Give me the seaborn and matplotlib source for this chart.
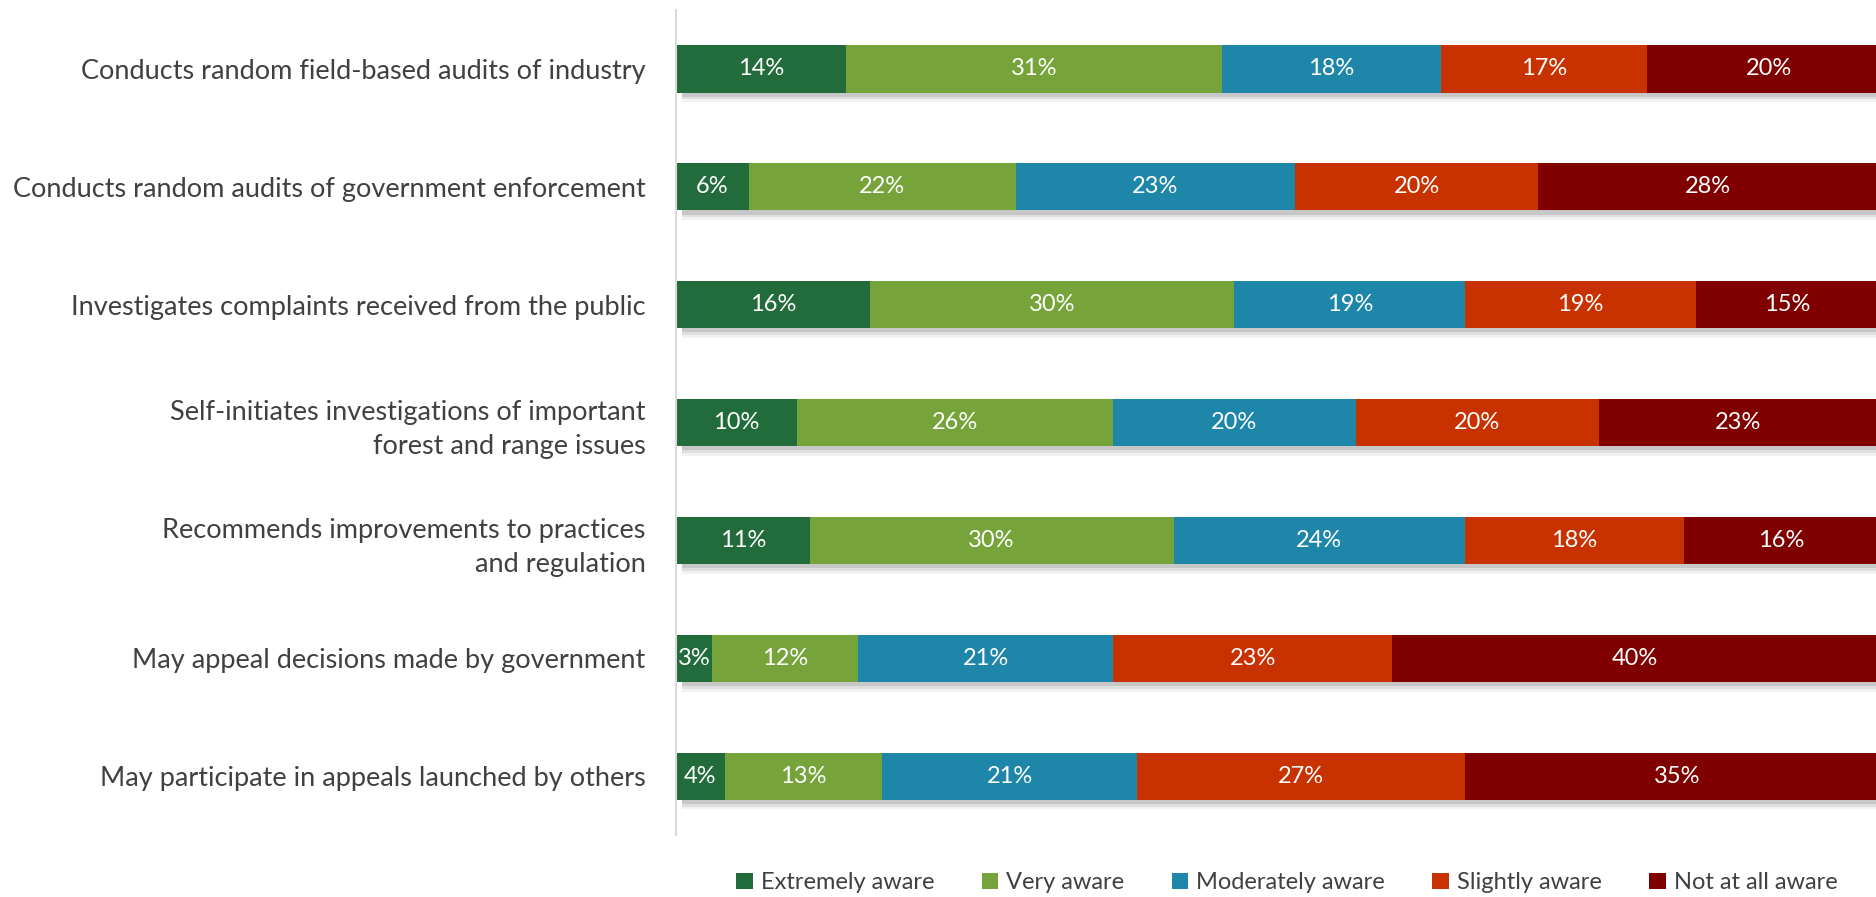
import numpy as np
import pandas as pd
import matplotlib.pyplot as plt
import matplotlib.patheffects as pe
from matplotlib.patches import Patch
import seaborn as sns

# survey items, top to bottom
items = [
    'Conducts random field-based audits of industry',
    'Conducts random audits of government enforcement',
    'Investigates complaints received from the public',
    'Self-initiates investigations of important\nforest and range issues',
    'Recommends improvements to practices\nand regulation',
    'May appeal decisions made by government',
    'May participate in appeals launched by others',
]

levels = ['Extremely aware', 'Very aware', 'Moderately aware', 'Slightly aware', 'Not at all aware']

extremely = [14, 6, 16, 10, 11, 3, 4]
very = [31, 22, 30, 26, 30, 12, 13]
moderately = [18, 23, 19, 20, 24, 21, 21]
slightly = [17, 20, 19, 20, 18, 23, 27]
not_at_all = [20, 28, 15, 23, 16, 40, 35]

colors = ['#226B3A', '#76A43A', '#1E86A9', '#C83100', '#800000']

sns.set_style('white')
plt.rcParams['font.family'] = ['Lato', 'DejaVu Sans']

df = pd.DataFrame({'item': items})
for lvl, vals in zip(levels, [extremely, very, moderately, slightly, not_at_all]):
    df[lvl] = vals
cum = df[levels].cumsum(axis=1)

fig = plt.figure(figsize=(18.76, 8.97), dpi=100)
ax = fig.add_axes([676 / 1876, 62 / 897, 1214 / 1876, 825 / 897])

# soft drop shadow, only under the full-length bars
shadow = [
    pe.SimplePatchShadow(offset=(4, -7), shadow_rgbFace='#9a9a9a', alpha=0.12),
    pe.SimplePatchShadow(offset=(4, -5), shadow_rgbFace='#8a8a8a', alpha=0.18),
    pe.SimplePatchShadow(offset=(4, -3), shadow_rgbFace='#808080', alpha=0.25),
    pe.Normal(),
]

# stacked bars: draw cumulative totals from the longest down
first = True
for lvl, col in reversed(list(zip(levels, colors))):
    sns.barplot(x=cum[lvl], y=df['item'], color=col, orient='h', width=0.4,
                saturation=1, ax=ax, linewidth=0)
    if first:
        for p in ax.patches:
            p.set_path_effects(shadow)
        first = False

# segment labels
for i in range(len(items)):
    for lvl in levels:
        v = df.loc[i, lvl]
        center = cum.loc[i, lvl] - v / 2
        ax.text(center, i, f'{v}%', ha='center', va='center', color='white', fontsize=17, zorder=5)

ax.set_xlim(0, 100)
ax.set_ylim(6.5, -0.5)
ax.set_xlabel('')
ax.set_ylabel('')
ax.set_xticks([])
ax.tick_params(axis='y', length=0, pad=22, labelsize=19.5, labelcolor='#404040')
for lab in ax.get_yticklabels():
    lab.set_horizontalalignment('right')
    lab.set_multialignment('right')
    lab.set_linespacing(1.45)
for s in ['top', 'right', 'bottom']:
    ax.spines[s].set_visible(False)
ax.spines['left'].set_color('#D9D9D9')
ax.spines['left'].set_linewidth(1.5)

handles = [Patch(facecolor=c, edgecolor='none') for c in colors]
fig.legend(handles, levels, loc='center', bbox_to_anchor=(0.686, 0.016), ncol=5, frameon=False,
           fontsize=17, labelcolor='#404040', handlelength=0.7, handleheight=0.7,
           handletextpad=0.35, columnspacing=2.0)

fig.savefig('out.png', dpi=100)
